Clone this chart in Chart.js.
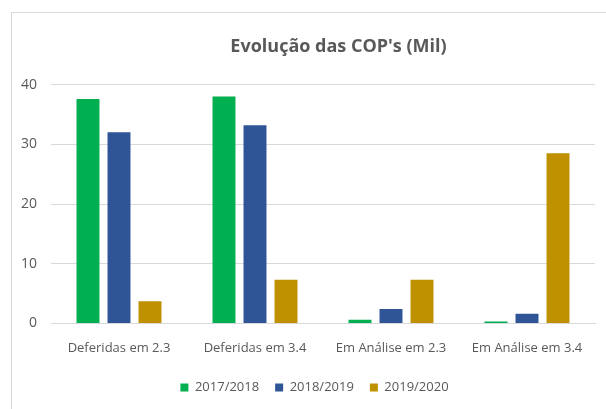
<!DOCTYPE html>
<html>
<head>
<meta charset="utf-8">
<script src="https://cdn.jsdelivr.net/npm/chart.js@4"></script>
<style>
  html, body { margin: 0; padding: 0; background: #fff; overflow: hidden; }
  #wrap { position: relative; width: 606px; height: 409px; }
  #frame { position: absolute; left: 11px; top: 12px; width: 700px; height: 500px; border: 1px solid #d9d9d9; }
  canvas { position: absolute; left: 0; top: 0; }
</style>
</head>
<body>
<div id="wrap">
  <div id="frame"></div>
  <canvas id="chart" width="606" height="409"></canvas>
</div>
<script>
const categories = ["Deferidas em 2.3", "Deferidas em 3.4", "Em Análise em 2.3", "Em Análise em 3.4"];
const seriesNames = ["2017/2018", "2018/2019", "2019/2020"];
const values1718 = [37.6, 38.0, 0.6, 0.3];
const values1819 = [32.0, 33.2, 2.4, 1.6];
const values1920 = [3.7, 7.3, 7.3, 28.5];
const colors = ["#00B050", "#2F5597", "#BF9000"];

const fontFamily = "'Open Sans', sans-serif";
const textColor = "#595959";

const data = {
  labels: categories,
  datasets: [values1718, values1819, values1920].map((vals, i) => ({
    label: seriesNames[i],
    data: vals,
    backgroundColor: colors[i],
    borderWidth: 0,
    categoryPercentage: 0.684,
    barPercentage: 0.74,
  })),
};

// the original chart is wider than the visible crop, so title and legend sit right of centre
const shiftBlocks = {
  id: "shiftBlocks",
  afterLayout(chart) {
    chart.titleBlock.left += 35;
    chart.titleBlock.right += 35;
    chart.legend.left += 11;
    chart.legend.right += 11;
  },
};

new Chart(document.getElementById("chart"), {
  type: "bar",
  data: data,
  plugins: [shiftBlocks],
  options: {
    responsive: false,
    animation: false,
    layout: { padding: { left: 12, right: 11, top: 14, bottom: 5 } },
    scales: {
      x: {
        grid: { display: false },
        border: { display: true, color: "#d9d9d9" },
        ticks: { color: textColor, font: { family: fontFamily, size: 13 }, padding: 9 },
      },
      y: {
        min: 0,
        max: 40,
        ticks: { stepSize: 10, color: textColor, font: { family: fontFamily, size: 14 }, padding: 14 },
        grid: { color: "#d9d9d9", drawTicks: false },
        border: { display: false },
        afterFit: (scale) => { scale.width = 39; },
      },
    },
    plugins: {
      title: {
        display: true,
        text: "Evolução das COP's (Mil)",
        color: textColor,
        font: { family: fontFamily, size: 18, weight: "bold" },
        padding: { top: 22, bottom: 27 },
      },
      legend: {
        position: "bottom",
        labels: {
          color: textColor,
          font: { family: fontFamily, size: 13 },
          boxWidth: 8,
          boxHeight: 8,
          padding: 16,
        },
      },
      tooltip: { enabled: false },
    },
  },
});
</script>
</body>
</html>
